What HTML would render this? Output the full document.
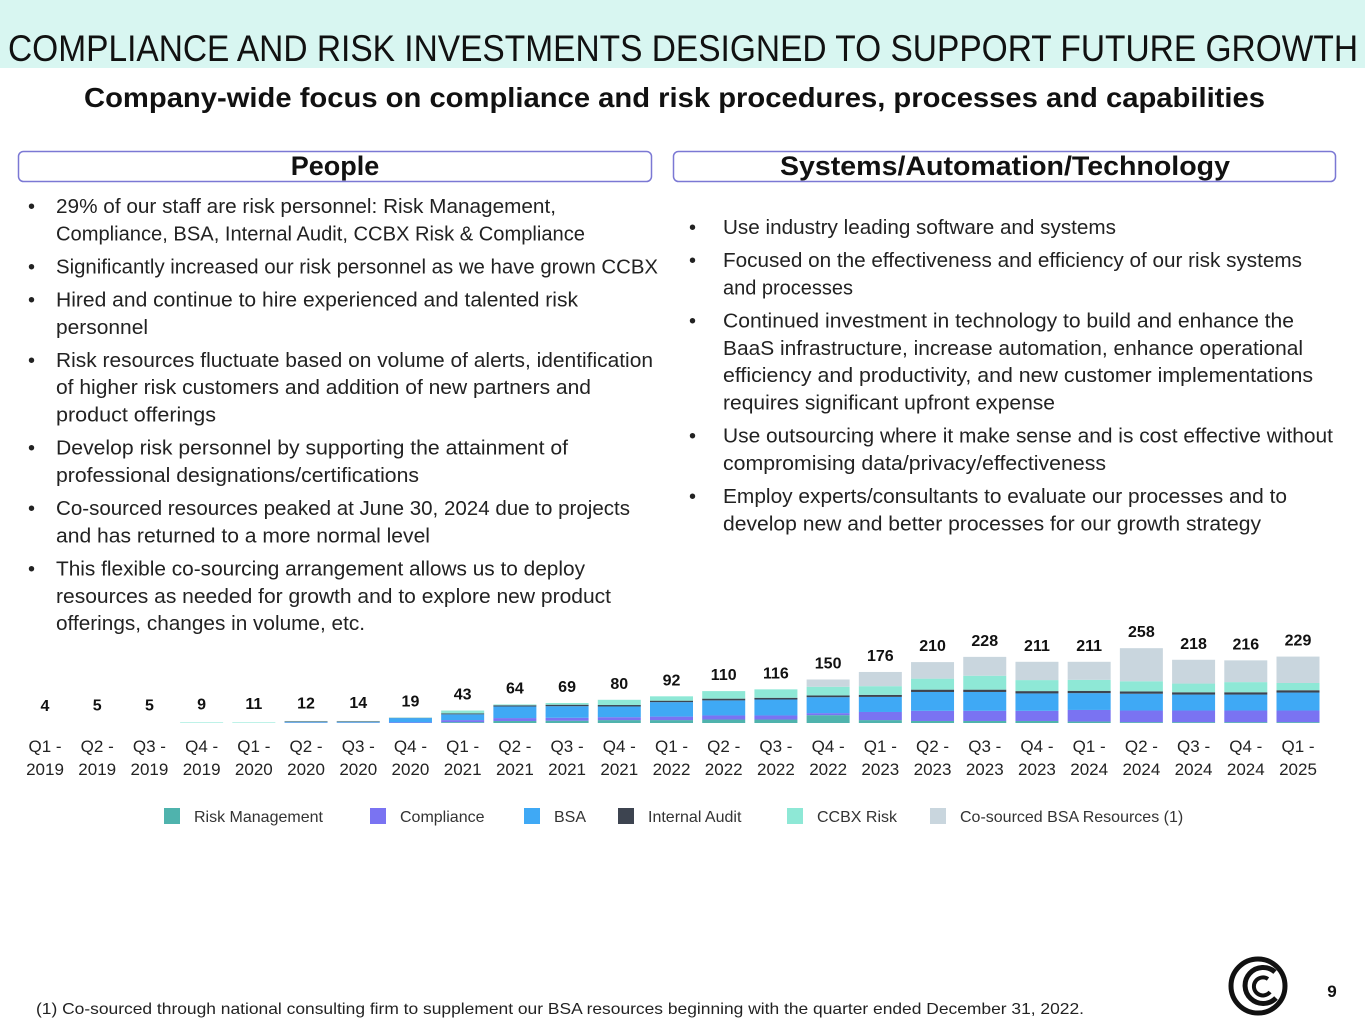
<!DOCTYPE html>
<html><head><meta charset="utf-8"><style>
html,body{margin:0;padding:0;background:#fff;}
svg{display:block;font-family:"Liberation Sans",sans-serif;}
</style></head><body>
<svg id="s" width="1365" height="1024" viewBox="0 0 1365 1024" xmlns="http://www.w3.org/2000/svg">
<rect x="0" y="0" width="1365" height="68" fill="#d8f6f1"/>
<text x="8" y="61" font-size="37" fill="#111" textLength="1350" lengthAdjust="spacingAndGlyphs">COMPLIANCE AND RISK INVESTMENTS DESIGNED TO SUPPORT FUTURE GROWTH</text>
<text x="84" y="107" font-size="28" font-weight="bold" fill="#111" textLength="1181" lengthAdjust="spacingAndGlyphs">Company-wide focus on compliance and risk procedures, processes and capabilities</text>
<rect x="18.5" y="151.5" width="633" height="30" rx="5" fill="#fff" stroke="#7b78d4" stroke-width="1.5"/>
<text x="335" y="175" font-size="27" font-weight="bold" text-anchor="middle" fill="#111">People</text>
<rect x="673.5" y="151.5" width="662" height="30" rx="5" fill="#fff" stroke="#7b78d4" stroke-width="1.5"/>
<text x="1005" y="175" font-size="27" font-weight="bold" text-anchor="middle" fill="#111" textLength="450" lengthAdjust="spacingAndGlyphs">Systems/Automation/Technology</text>
<g id="bul"></g>
<g id="chart"></g>
<text x="36" y="1014" font-size="16" fill="#222" textLength="1048" lengthAdjust="spacingAndGlyphs">(1) Co-sourced through national consulting firm to supplement our BSA resources beginning with the quarter ended December 31, 2022.</text>
<g fill="none" stroke="#111">
<circle cx="1258" cy="986" r="27" stroke-width="5"/>
<path d="M1275 972 A18 18 0 1 0 1276 998" stroke-width="5"/>
<path d="M1268 979 A9 9 0 1 0 1270 992" stroke-width="4"/>
</g>
<text x="1332" y="997" font-size="17" font-weight="bold" text-anchor="middle" fill="#111">9</text>
</svg>
<script>
const NS="http://www.w3.org/2000/svg";
const categories=["Q1 - 2019","Q2 - 2019","Q3 - 2019","Q4 - 2019","Q1 - 2020","Q2 - 2020","Q3 - 2020","Q4 - 2020","Q1 - 2021","Q2 - 2021","Q3 - 2021","Q4 - 2021","Q1 - 2022","Q2 - 2022","Q3 - 2022","Q4 - 2022","Q1 - 2023","Q2 - 2023","Q3 - 2023","Q4 - 2023","Q1 - 2024","Q2 - 2024","Q3 - 2024","Q4 - 2024","Q1 - 2025"];
const totals=[4,5,5,9,11,12,14,19,43,64,69,80,92,110,116,150,176,210,228,211,211,258,218,216,229];
const riskMgmt=[0,0,0,0,0,1,1,0,3,7,8,10,10,12,12,27,10,7,7,7,5,3,3,3,3];
const compliance=[0,0,0,0,0,1,1,2,7,10,10,10,12,14,14,7,28,35,35,35,40,40,40,40,40];
const bsa=[0,0,0,0,0,2,2,15,20,40,40,37,50,52,55,55,52,65,65,60,58,58,55,55,62];
const internalAudit=[0,0,0,0,0,2,2,1,3,4,5,5,5,6,6,6,7,8,8,8,8,8,8,8,8];
const ccbxRisk=[0,0,0,2,2,1,1,1,10,3,6,18,15,26,29,30,30,38,48,38,38,35,30,35,25];
const coSourced=[0,0,0,0,0,0,0,0,0,0,0,0,0,0,0,25,49,57,65,63,62,114,82,75,91];
const seriesNames=["Risk Management","Compliance","BSA","Internal Audit","CCBX Risk","Co-sourced BSA Resources (1)"];
const seriesColors=["#4fb3ad","#7a73f2","#3fa9f5","#3d4450","#8ee8d6","#c9d6de"];
const series=[riskMgmt,compliance,bsa,internalAudit,ccbxRisk,coSourced];
const leftBullets=[["29% of our staff are risk personnel: Risk Management,","Compliance, BSA, Internal Audit, CCBX Risk & Compliance"],["Significantly increased our risk personnel as we have grown CCBX"],["Hired and continue to hire experienced and talented risk","personnel"],["Risk resources fluctuate based on volume of alerts, identification","of higher risk customers and addition of new partners and","product offerings"],["Develop risk personnel by supporting the attainment of","professional designations/certifications"],["Co-sourced resources peaked at June 30, 2024 due to projects","and has returned to a more normal level"],["This flexible co-sourcing arrangement allows us to deploy","resources as needed for growth and to explore new product","offerings, changes in volume, etc."]];
const leftEnds=[[556,585],[658],[578,148],[653,591,216],[568,419],[630,430],[585,611,365]];
const rightBullets=[["Use industry leading software and systems"],["Focused on the effectiveness and efficiency of our risk systems","and processes"],["Continued investment in technology to build and enhance the","BaaS infrastructure, increase automation, enhance operational","efficiency and productivity, and new customer implementations","requires significant upfront expense"],["Use outsourcing where it make sense and is cost effective without","compromising data/privacy/effectiveness"],["Employ experts/consultants to evaluate our processes and to","develop new and better processes for our growth strategy"]];
const rightEnds=[[1116],[1302,853],[1294,1303,1313,1055],[1333,1106],[1287,1261]];
const svg=document.getElementById('s');
function mk(tag,attrs,parent,txt){const e=document.createElementNS(NS,tag);for(const k in attrs)e.setAttribute(k,attrs[k]);if(txt!==undefined)e.textContent=txt;parent.appendChild(e);return e;}
const bul=document.getElementById('bul');
function drawBullets(list,ends,bx,tx,y0,name){
  let y=y0;
  list.forEach((lines,i)=>{
    const d=mk('text',{x:bx,y:y+7,'font-size':20,fill:'#222'},bul,'•');
    
    
    lines.forEach((ln,j)=>{
      const t=mk('text',{x:tx,y:y+7,'font-size':20,fill:'#222',textLength:ends[i][j]-tx,lengthAdjust:'spacingAndGlyphs'},bul,ln);
      
      
      y+=27.4;
    });
    y+=5.6;
  });
}
drawBullets(leftBullets,leftEnds,28,56,206,'people-bullet');
drawBullets(rightBullets,rightEnds,689,723,227,'systems-bullet');
const chart=document.getElementById('chart');
const base=723, k=0.29, x0=45, step=(1298-45)/24, bw=43;
function xs(i){return x0+i*step;}
function ys(v){return v*k;}
categories.forEach((c,i)=>{
  let acc=0;
  series.forEach((s,si)=>{
    const v=s[i]; if(v<=0) return;
    const r=mk('rect',{x:xs(i)-bw/2,y:base-ys(acc+v),width:bw,height:ys(v),fill:seriesColors[si]},chart);
    
    
    acc+=v;
  });
  const lab=mk('text',{x:xs(i),y:base-ys(totals[i])-11,'font-size':16,'font-weight':'bold','text-anchor':'middle',fill:'#111'},chart,String(totals[i]));
  
  
  const p=c.split(' - ');
  const t1=mk('text',{x:xs(i),y:752,'font-size':17,'text-anchor':'middle',fill:'#222'},chart,p[0]+' -');
  
  
  const t2=mk('text',{x:xs(i),y:775,'font-size':17,'text-anchor':'middle',fill:'#222'},chart,p[1]);
  
  
});
const legX=[164,370,524,618,787,930];
seriesNames.forEach((n,i)=>{
  const g=mk('g',{},chart);
  
  
  mk('rect',{x:legX[i],y:808,width:16,height:16,fill:seriesColors[i]},g);
  mk('text',{x:legX[i]+30,y:822,'font-size':16,fill:'#333'},g,n);
});
</script>
</body></html>
